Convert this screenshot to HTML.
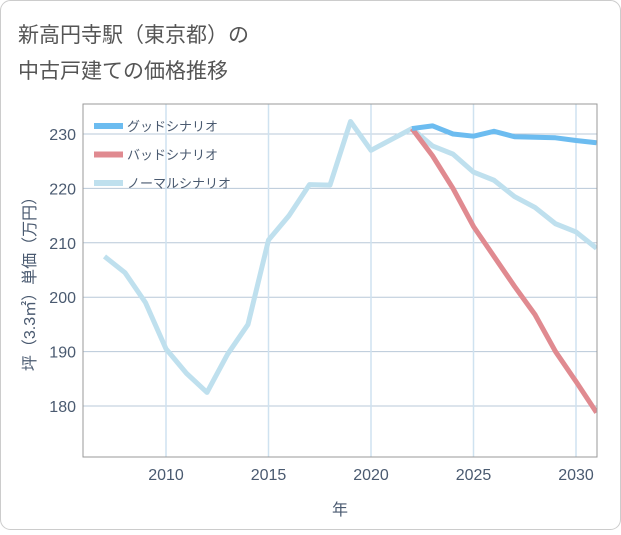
<!DOCTYPE html>
<html><head><meta charset="utf-8"><style>
body{margin:0;background:#fff;}
#wrap{position:relative;width:621px;height:530px;font-family:"Liberation Sans","Noto Sans CJK JP",sans-serif;}
</style></head><body>
<div id="wrap">
<svg id="chart" width="621" height="530" xmlns="http://www.w3.org/2000/svg">
<rect x="0.5" y="0.5" width="620" height="529" rx="10" fill="#fff" stroke="#ccc"/>
<text x="18" y="42" font-size="21" fill="#555">新高円寺駅（東京都）の</text>
<text x="18" y="78" font-size="21" fill="#555">中古戸建ての価格推移</text>
<g id="grid"></g>
<g id="series"></g>
<rect x="83" y="104" width="514" height="353" fill="none" stroke="#999"/>
<g id="axes"></g>
<text x="340" y="515" font-size="16" fill="#4a5a70" text-anchor="middle">年</text>
<text transform="translate(35,280) rotate(-90)" font-size="16" fill="#4a5a70" text-anchor="middle">坪（3.3㎡）単価（万円）</text>
<g id="legend"></g>
</svg>
</div>
<script>
const years=[2007,2008,2009,2010,2011,2012,2013,2014,2015,2016,2017,2018,2019,2020,2021,2022,2023,2024,2025,2026,2027,2028,2029,2030,2031];
const normal=[207.5,204.5,199,190.5,186,182.5,189.5,195,210.5,215,220.7,220.6,232.3,227,229,231,227.8,226.3,223,221.5,218.5,216.5,213.5,212,209];
const scenYears=[2022,2023,2024,2025,2026,2027,2028,2029,2030,2031];
const good=[231,231.5,230,229.6,230.5,229.5,229.4,229.3,228.8,228.4];
const bad=[231,226,220,213,207.5,202,196.8,190,184.5,178.8];
const yTicks=[180,190,200,210,220,230];
const xTicks=[2010,2015,2020,2025,2030];
const NS="http://www.w3.org/2000/svg";
const X=v=>166+(v-2010)*20.5;
const Y=v=>406-(v-180)*5.44;
function mk(tag,attrs,parent){const e=document.createElementNS(NS,tag);for(const k in attrs)e.setAttribute(k,attrs[k]);parent.appendChild(e);return e;}
const grid=document.getElementById('grid'),axes=document.getElementById('axes'),ser=document.getElementById('series'),leg=document.getElementById('legend');
yTicks.forEach(t=>{
 const l=mk('line',{x1:83,x2:597,y1:Y(t),y2:Y(t),stroke:'#b8c8d8','stroke-width':1},grid);
 
 
 const tx=mk('text',{x:76,y:Y(t)+6,'font-size':16,fill:'#4a5a70','text-anchor':'end'},axes);tx.textContent=t;
 
 
});
xTicks.forEach(t=>{
 const l=mk('line',{x1:X(t),x2:X(t),y1:104,y2:457,stroke:'#cfe2f0','stroke-width':1.5},grid);
 
 
 const tx=mk('text',{x:X(t),y:480,'font-size':16,fill:'#4a5a70','text-anchor':'middle'},axes);tx.textContent=t;
 
 
});
function line(xs,ys,color,name){
 const p=mk('polyline',{points:xs.map((x,i)=>X(x)+','+Y(ys[i])).join(' '),fill:'none',stroke:color,'stroke-width':5,'stroke-linejoin':'round'},ser);
 
 
}
const clip=mk('clipPath',{id:'pc'},document.getElementById('chart'));mk('rect',{x:83,y:104,width:514,height:353},clip);
ser.setAttribute('clip-path','url(#pc)');
line(years,normal,'#bfe0ee','normal-scenario-line');
line(scenYears,bad,'#e08a90','bad-scenario-line');
line(scenYears,good,'#6cbcf0','good-scenario-line');
const legItems=[['グッドシナリオ','#6cbcf0','legend-good'],['バッドシナリオ','#e08a90','legend-bad'],['ノーマルシナリオ','#bfe0ee','legend-normal']];
legItems.forEach((it,i)=>{
 const g=mk('g',{},leg);
 
 
 const y=126+i*28.5;
 mk('rect',{x:94,y:y-3,width:29,height:6,fill:it[1]},g);
 const t=mk('text',{x:127,y:y+5,'font-size':13,fill:'#4a5a70'},g);t.textContent=it[0];
});
</script>
</body></html>
